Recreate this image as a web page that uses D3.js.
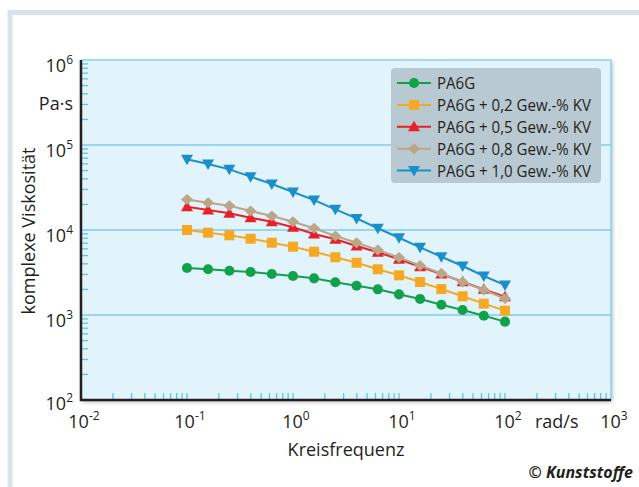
<!DOCTYPE html>
<html><head><meta charset="utf-8">
<script src="https://cdn.jsdelivr.net/npm/d3@7/dist/d3.min.js"></script>
<style>
html,body{margin:0;padding:0;background:#fff;}
svg{display:block;}
.t{font-family:'Open Sans',sans-serif;fill:#231f20;}
</style></head>
<body><svg id="c" width="639" height="487"></svg>
<script>
const freq = [0.1, 0.158, 0.251, 0.398, 0.631, 1, 1.58, 2.51, 3.98, 6.31, 10, 15.8, 25.1, 39.8, 63.1, 100];
const pa6g   = [3570, 3450, 3320, 3205, 3035, 2875, 2700, 2430, 2210, 2005, 1750, 1545, 1320, 1145, 980, 835];
const kv02   = [10000, 9290, 8660, 7900, 7090, 6360, 5560, 4780, 4120, 3450, 2930, 2445, 2020, 1660, 1360, 1125];
const kv05   = [18800, 17200, 15700, 13950, 12500, 10770, 8980, 7780, 6490, 5470, 4520, 3700, 3035, 2465, 2005, 1640];
const kv08   = [22900, 20900, 19300, 16700, 14600, 12500, 10480, 8490, 7090, 5820, 4750, 3820, 3075, 2445, 1970, 1565];
const kv10   = [67900, 59700, 51700, 42400, 34800, 28000, 22500, 17500, 13700, 10480, 8110, 6250, 4850, 3770, 2875, 2250];
const seriesNames = ["PA6G", "PA6G + 0,2 Gew.-% KV", "PA6G + 0,5 Gew.-% KV", "PA6G + 0,8 Gew.-% KV", "PA6G + 1,0 Gew.-% KV"];
const xTickExp = [-2, -1, 0, 1, 2, 3];
const yTickExp = [2, 3, 4, 5, 6];

const colors = ["#12a14b", "#f7a823", "#e8202a", "#bba688", "#1a8fcc"];
const markers = ["circle", "square", "triUp", "diamond", "triDown"];
const seriesData = [pa6g, kv02, kv05, kv08, kv10];

const svg = d3.select("#c");
const L = 81, R = 611, T = 60, B = 400;
const x = d3.scaleLog().domain([1e-2, 1e3]).range([L, R]);
const y = d3.scaleLog().domain([1e2, 1e6]).range([B, T]);

// outer frame
svg.append("path").attr("d", "M10,490 L10,12.5 L642,12.5").attr("fill", "none")
  .attr("stroke", "#d9e3ea").attr("stroke-width", 5);

const defs = svg.append("defs");
const f = defs.append("filter").attr("id", "sh").attr("x", "-5%").attr("y", "-5%").attr("width", "110%").attr("height", "110%");
f.append("feDropShadow").attr("dx", 1).attr("dy", 1.5).attr("stdDeviation", 2).attr("flood-color", "#000").attr("flood-opacity", 0.35);

svg.append("rect").attr("x", L).attr("y", T).attr("width", R - L).attr("height", B - T)
  .attr("fill", "#e1f3fb").attr("filter", "url(#sh)");

// gridlines
svg.append("g").selectAll("line").data([3, 4, 5]).join("line")
  .attr("x1", L).attr("x2", R).attr("y1", d => y(Math.pow(10, d))).attr("y2", d => y(Math.pow(10, d)))
  .attr("stroke", "#96d6f3").attr("stroke-width", 2);

// minor ticks
const yMinor = [];
for (let e = 2; e < 6; e++) for (let m = 2; m <= 9; m++) yMinor.push(m * Math.pow(10, e));
svg.append("g").selectAll("line").data(yMinor).join("line")
  .attr("x1", L).attr("x2", L + 7).attr("y1", d => y(d)).attr("y2", d => y(d))
  .attr("stroke", "#5ec5ef").attr("stroke-width", 1.3);
const xMinor = [];
for (let e = -2; e < 3; e++) for (let m = 1; m <= 9; m++) { if (e === -2 && m === 1) continue; xMinor.push(m * Math.pow(10, e)); }
svg.append("g").selectAll("line").data(xMinor).join("line")
  .attr("x1", d => x(d)).attr("x2", d => x(d)).attr("y1", B).attr("y2", B - 7)
  .attr("stroke", "#5ec5ef").attr("stroke-width", 1.3);

// top/right border
svg.append("path").attr("d", `M${L},${T} L${R},${T} L${R},${B}`).attr("fill", "none")
  .attr("stroke", "#8fd3f3").attr("stroke-width", 1.5);
// axes
svg.append("path").attr("d", `M${L},${T} L${L},${B} L${R},${B}`).attr("fill", "none")
  .attr("stroke", "#231f20").attr("stroke-width", 2.5);

// series
const line = d3.line().x((d, i) => x(freq[i])).y(d => y(d));
function markerPath(type) {
  switch (type) {
    case "circle": return d3.symbol(d3.symbolCircle, 80)();
    case "square": return "M-5,-5H5V5H-5Z";
    case "triUp": return "M0,-6L6,4.5L-6,4.5Z";
    case "triDown": return "M0,6L6,-4.5L-6,-4.5Z";
    case "diamond": return "M0,-5.5L6,0L0,5.5L-6,0Z";
  }
}
seriesData.forEach((vals, s) => {
  const g = svg.append("g");
  g.append("path").attr("d", line(vals)).attr("fill", "none").attr("stroke", colors[s]).attr("stroke-width", 2);
  g.selectAll("path.m").data(vals).join("path").attr("class", "m")
    .attr("d", markerPath(markers[s]))
    .attr("transform", (d, i) => `translate(${x(freq[i])},${y(d)})`)
    .attr("fill", colors[s]);
});

// legend
const lg = svg.append("g");
lg.append("rect").attr("x", 391).attr("y", 68).attr("width", 210).attr("height", 115).attr("rx", 4)
  .attr("fill", "#b9c9d2");
seriesNames.forEach((n, i) => {
  const cy = 83 + i * 21.9;
  lg.append("line").attr("x1", 397).attr("x2", 431).attr("y1", cy).attr("y2", cy)
    .attr("stroke", colors[i]).attr("stroke-width", 2);
  lg.append("path").attr("d", markerPath(markers[i])).attr("transform", `translate(414,${cy})`).attr("fill", colors[i]);
  const tx = lg.append("text").attr("class", "t").attr("x", 437).attr("y", cy + 6).attr("font-size", 17).text(n);
  const w = tx.node().getComputedTextLength();
  tx.attr("textLength", w * 0.885).attr("lengthAdjust", "spacingAndGlyphs");
});

// y tick labels
yTickExp.forEach(e => {
  const t = svg.append("text").attr("class", "t").attr("x", 73).attr("y", y(Math.pow(10, e)) + 12 - (e === 2 ? 2 : 0))
    .attr("text-anchor", "end").attr("font-size", 18);
  t.append("tspan").text("10");
  t.append("tspan").attr("dy", -8).attr("font-size", 12).text(e);
});
svg.append("text").attr("class", "t").attr("x", 73).attr("y", 110).attr("text-anchor", "end").attr("font-size", 18).text("Pa·s");

// x tick labels
xTickExp.forEach(e => {
  const t = svg.append("text").attr("class", "t").attr("x", x(Math.pow(10, e)) + 3).attr("y", 428)
    .attr("text-anchor", "middle").attr("font-size", 18);
  t.append("tspan").text("10");
  t.append("tspan").attr("dy", -8).attr("font-size", 12).text(e);
});
svg.append("text").attr("class", "t").attr("x", 535).attr("y", 428).attr("font-size", 18).text("rad/s");

svg.append("text").attr("class", "t").attr("x", 346).attr("y", 456).attr("text-anchor", "middle").attr("font-size", 18).text("Kreisfrequenz");
svg.append("text").attr("class", "t").attr("transform", "translate(35,231) rotate(-90)").attr("text-anchor", "middle").attr("font-size", 18).text("komplexe Viskosität");

svg.append("text").attr("class", "t").attr("x", 633).attr("y", 478).attr("text-anchor", "end")
  .attr("font-size", 16).attr("font-weight", "bold").attr("font-style", "italic").text("© Kunststoffe");
</script></body></html>
